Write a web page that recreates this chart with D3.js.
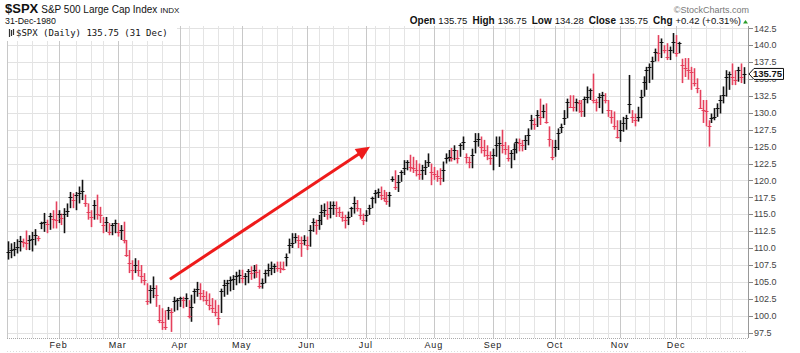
<!DOCTYPE html>
<html>
<head>
<meta charset="utf-8">
<script src="https://cdn.jsdelivr.net/npm/d3@7"></script>
<style>
  body { margin: 0; background: #fff; }
  svg { display: block; font-family: "Liberation Sans", Arial, sans-serif; }
</style>
</head>
<body>
<svg id="chart" width="800" height="353"></svg>
<script>
// Daily bars, 9 Jan .. 31 Dec 1980. Old data: open == close, so only H/L/C.
const highs = [
  111.0, 110.7, 110.9, 111.3, 111.8, 111.4, 112.6, 111.9, 112.4, 112.8, 111.8, 113.9, 115.2, 114.2, 115.2, 115.6, 116.9,
  115.6, 115.1, 115.9, 116.6, 118.3, 118.1, 118.3, 119.1, 120.1, 117.9, 116.6, 115.6, 117.1, 117.9, 116.1, 114.6, 114.6, 113.7, 113.7, 114.2,
  113.7, 113.4, 113.9, 111.2, 109.7, 108.2, 108.5, 108.2, 107.5, 106.3, 104.8, 104.5, 105.8, 104.5, 101.6, 101.1, 100.8, 101.3, 101.1, 102.8, 102.6,
  102.8, 102.8, 103.3, 102.3, 103.1, 104.0, 105.0, 104.8, 103.8, 103.6, 103.3, 102.6, 102.3, 101.6, 104.0, 105.3, 105.3, 105.8, 106.0, 106.5, 106.8,
  106.8, 106.3, 106.9, 107.3, 107.5, 107.6, 106.8, 105.5, 106.8, 107.7, 108.0, 107.7, 108.0, 108.0, 108.0, 109.2, 111.4, 112.2, 112.2, 111.9, 111.7, 111.9,
  111.7, 113.4, 114.4, 114.2, 114.9, 116.4, 116.6, 116.9, 116.9, 116.9, 116.9, 116.1, 115.4, 114.9, 115.4, 116.1, 117.6, 117.1, 115.9, 115.1,
  115.6, 116.4, 117.6, 118.6, 118.8, 119.1, 118.6, 118.3, 118.3, 120.6, 121.5, 120.8, 121.5, 123.0, 123.0, 123.8, 123.5, 123.0, 122.5, 122.3, 123.0, 124.0, 122.5,
  122.0, 121.5, 121.8, 122.8, 124.0, 124.5, 124.8, 125.2, 124.5, 125.5, 126.5, 124.0, 123.5, 124.7, 127.0, 127.0, 126.5, 126.0, 125.2, 124.3,
  124.7, 126.5, 126.5, 127.5, 125.7, 125.2, 124.5, 125.5, 126.2, 126.2, 126.0, 126.7, 127.7, 129.7, 129.2, 130.4, 132.1, 131.2, 131.4, 128.0, 126.0,
  126.0, 127.7, 128.4, 130.4, 132.1, 132.6, 132.6, 132.1, 131.9, 131.9, 132.4, 133.9, 133.6, 135.8, 132.1, 132.9, 133.1, 132.9, 131.9, 130.4, 130.2, 128.9,
  128.9, 129.4, 129.7, 135.6, 130.4, 129.9, 130.9, 133.4, 135.4, 136.8, 137.3, 138.3, 139.5, 141.5, 141.0, 140.0, 140.3, 139.8, 141.8,
  141.5, 140.5, 138.0, 138.1, 138.1, 136.8, 136.6, 135.1, 133.4, 131.9, 131.9, 128.9, 129.9, 130.7, 131.4, 132.6, 133.9, 136.3, 136.1, 137.3, 136.3, 136.8, 137.3, 136.75
];
const lows = [
  108.3, 108.5, 108.8, 109.2, 109.5, 110.1, 109.7, 109.7, 109.5, 110.4, 111.0, 112.8, 112.4, 112.2, 112.7, 112.9, 112.9,
  113.7, 113.4, 112.2, 114.6, 115.9, 115.9, 115.6, 116.6, 117.1, 116.1, 114.2, 113.1, 114.2, 114.2, 113.7, 112.2, 112.4, 111.9, 111.9, 112.2,
  111.7, 111.2, 110.7, 108.7, 106.3, 105.3, 106.3, 105.8, 104.8, 104.5, 101.6, 101.8, 102.6, 101.3, 98.9, 97.9, 97.9, 99.4, 97.6, 100.6, 100.8,
  101.3, 101.1, 101.3, 99.6, 99.1, 101.8, 102.8, 102.3, 102.1, 101.6, 100.8, 100.4, 99.9, 98.6, 100.4, 102.8, 103.1, 103.6, 103.8, 104.5, 104.8,
  104.8, 104.5, 104.8, 105.3, 105.5, 105.6, 104.0, 104.0, 104.8, 105.8, 106.0, 106.3, 106.5, 106.3, 106.7, 107.3, 109.2, 110.0, 110.7, 110.0, 108.7, 110.4,
  109.7, 110.2, 112.4, 112.0, 112.7, 113.4, 114.6, 114.2, 114.4, 114.9, 114.6, 114.6, 113.9, 112.9, 113.4, 114.6, 115.1, 115.4, 114.2, 113.4,
  113.9, 114.9, 115.9, 116.6, 117.4, 117.1, 116.9, 116.4, 116.1, 119.8, 118.6, 118.3, 119.8, 120.8, 121.5, 121.3, 121.1, 120.6, 120.1, 120.1, 120.8, 122.0, 119.3,
  120.1, 119.8, 119.3, 119.8, 122.5, 122.8, 122.8, 123.0, 122.5, 123.5, 124.5, 122.5, 121.8, 121.8, 124.0, 125.0, 124.0, 123.5, 123.0, 122.3,
  121.5, 123.5, 122.0, 124.0, 123.8, 122.8, 121.8, 123.0, 124.0, 124.3, 124.3, 124.5, 125.2, 127.5, 127.5, 127.9, 128.2, 129.2, 128.4, 125.0, 123.0,
  123.5, 124.5, 127.0, 128.2, 129.2, 130.7, 130.2, 130.2, 130.0, 129.4, 129.4, 131.4, 131.9, 131.4, 130.2, 130.7, 129.9, 131.4, 129.4, 128.4, 127.5, 126.2,
  125.7, 127.2, 127.5, 129.9, 128.5, 128.0, 128.7, 129.2, 132.4, 133.4, 134.4, 134.9, 137.6, 137.6, 138.1, 138.8, 137.8, 137.8, 138.8,
  138.3, 138.8, 134.4, 135.3, 134.9, 133.4, 133.9, 132.9, 130.6, 128.5, 128.0, 125.0, 128.5, 128.9, 129.4, 129.9, 131.4, 132.4, 133.4, 134.1, 134.1, 134.6, 134.4, 134.28
];
const closes = [
  109.4, 109.7, 109.9, 110.2, 111.0, 110.9, 110.8, 111.2, 111.4, 111.9, 111.5, 113.7, 113.8, 113.6, 114.7, 114.3, 114.1,
  115.0, 114.4, 115.1, 115.5, 117.6, 117.1, 117.8, 118.2, 118.5, 116.6, 115.4, 114.6, 116.4, 115.1, 114.9, 113.4, 113.9, 112.4, 113.4, 113.7,
  112.4, 112.7, 111.2, 109.0, 107.8, 106.8, 107.5, 106.8, 105.8, 105.3, 102.1, 103.8, 104.1, 103.1, 99.4, 99.1, 98.4, 100.8, 100.6, 102.1, 102.3,
  102.6, 102.3, 102.6, 99.9, 101.3, 103.6, 104.0, 103.3, 102.9, 102.3, 101.6, 101.1, 100.6, 99.6, 103.6, 104.5, 104.8, 105.3, 105.5, 105.8, 106.0,
  105.6, 105.9, 106.6, 106.3, 106.8, 106.5, 104.4, 104.8, 106.3, 106.8, 107.0, 107.3, 107.1, 107.0, 106.9, 108.7, 110.4, 110.8, 111.6, 111.2, 110.7, 111.2,
  110.4, 112.7, 113.9, 113.4, 114.2, 115.4, 115.6, 115.1, 115.9, 116.4, 115.9, 115.4, 114.6, 114.2, 114.6, 115.9, 116.6, 115.9, 114.9, 114.2,
  114.9, 115.9, 117.4, 118.1, 118.3, 117.9, 117.4, 116.9, 117.9, 120.2, 119.1, 119.8, 121.3, 121.8, 122.8, 122.0, 121.8, 121.5, 121.0, 121.5, 122.0, 122.8, 121.3,
  121.0, 120.6, 120.3, 121.5, 123.3, 123.5, 123.3, 124.5, 123.3, 125.2, 125.7, 123.5, 122.8, 123.8, 125.9, 126.1, 125.0, 124.5, 123.8, 123.3,
  123.8, 125.2, 125.5, 125.2, 124.7, 123.3, 124.0, 124.7, 125.7, 125.5, 125.3, 126.0, 126.7, 128.9, 128.4, 129.7, 129.4, 130.2, 128.7, 126.2, 123.5,
  125.0, 127.0, 127.9, 129.2, 131.6, 130.9, 130.8, 131.6, 131.4, 130.2, 132.1, 132.4, 133.4, 131.9, 131.6, 132.4, 132.6, 131.9, 130.4, 129.4, 128.0, 126.4,
  127.5, 128.5, 129.2, 131.3, 129.4, 128.9, 129.4, 132.4, 134.6, 136.3, 136.8, 137.6, 139.0, 138.8, 140.5, 139.3, 138.3, 139.3, 140.5,
  138.8, 140.3, 137.1, 136.6, 136.4, 136.0, 134.4, 133.6, 130.7, 130.4, 130.2, 128.0, 129.2, 129.4, 130.7, 131.9, 132.6, 135.3, 135.8, 135.35, 134.9, 136.3, 135.33, 135.75
];

// month and week separators, as bar indices
const monthLabels = ["Feb", "Mar", "Apr", "May", "Jun", "Jul", "Aug", "Sep", "Oct", "Nov", "Dec"];
const monthStarts = [17, 37, 58, 79, 101, 121, 144, 164, 185, 207, 226];
const weekStarts = [3, 8, 13, 23, 28, 32, 42, 47, 52, 61, 66, 71, 76, 86, 91, 96, 105, 110, 115, 124, 129, 134, 139,
  149, 154, 159, 168, 173, 178, 188, 193, 198, 203, 212, 217, 222, 231, 236, 241, 245];
const yTicks = [97.5, 100.0, 102.5, 105.0, 107.5, 110.0, 112.5, 115.0, 117.5, 120.0, 122.5, 125.0, 127.5,
  130.0, 132.5, 135.0, 137.5, 140.0, 142.5];

// hand drawn trend arrow, in [bar index, price]
const arrowFrom = [54.7, 105.4];
const arrowTo = [122.4, 125.0];

const quote = { open: "135.75", high: "136.75", low: "134.28", close: "135.75", chg: "+0.42 (+0.31%)" };
const lastClose = 135.75;

const upColor = "#111";
const downColor = "#e5405c";

const plot = { left: 7, right: 748, top: 26, bottom: 338 };

const svg = d3.select("#chart");

const x = d3.scaleLinear()
	.domain([0, closes.length - 1])
	.range([8.3, 744]);

const y = d3.scaleLinear()
	.domain([97.5, 142.5])
	.range([332.6, 28.3]);

const snap = (v) => Math.round(v) + 0.5;

// Grid
const grid = svg.append("g").attr("class", "grid");

grid.selectAll(".h-grid")
	.data(yTicks)
	.enter()
	.append("line")
	.attr("x1", plot.left)
	.attr("x2", plot.right)
	.attr("y1", d => snap(y(d)))
	.attr("y2", d => snap(y(d)))
	.style("stroke", "#e2e2e2")
	.style("stroke-width", 1);

grid.selectAll(".w-grid")
	.data(weekStarts)
	.enter()
	.append("line")
	.attr("x1", d => snap(x(d)))
	.attr("x2", d => snap(x(d)))
	.attr("y1", plot.top)
	.attr("y2", plot.bottom)
	.style("stroke", "#e4e4e4")
	.style("stroke-width", 1);

grid.selectAll(".m-grid")
	.data(monthStarts)
	.enter()
	.append("line")
	.attr("x1", d => snap(x(d)))
	.attr("x2", d => snap(x(d)))
	.attr("y1", plot.top)
	.attr("y2", plot.bottom)
	.style("stroke", "#c8c8c8")
	.style("stroke-width", 1);

// frame
svg.append("line")
	.attr("x1", plot.left + 0.5).attr("x2", plot.left + 0.5)
	.attr("y1", plot.top).attr("y2", plot.bottom)
	.style("stroke", "#c8c8c8");

svg.append("line")
	.attr("x1", plot.left).attr("x2", plot.right)
	.attr("y1", plot.bottom + 0.5).attr("y2", plot.bottom + 0.5)
	.style("stroke", "#aaa")
	.style("stroke-dasharray", "1,1");

svg.append("line")
	.attr("x1", plot.left).attr("x2", plot.right)
	.attr("y1", 351.5).attr("y2", 351.5)
	.style("stroke", "#ddd")
	.style("stroke-dasharray", "1,2");

svg.append("line")
	.attr("x1", plot.right + 0.5).attr("x2", plot.right + 0.5)
	.attr("y1", plot.top).attr("y2", plot.bottom)
	.style("stroke", "#999");

// legend box inside the plot
const legend = svg.append("g");
legend.append("rect")
	.attr("x", 5).attr("y", 26)
	.attr("width", 172).attr("height", 15)
	.style("fill", "#fff");

[[9, 29, 37], [11, 30, 36], [13, 29, 35]].forEach(d => {
	legend.append("line")
		.attr("x1", d[0] + 0.5).attr("x2", d[0] + 0.5)
		.attr("y1", d[1]).attr("y2", d[2])
		.style("stroke", "#333")
		.style("stroke-width", 1.2);
});

legend.append("text")
	.attr("x", 16).attr("y", 36)
	.style("font-family", "'DejaVu Sans Mono', monospace")
	.style("font-size", "9px")
	.style("fill", "#111")
	.text("$SPX (Daily) " + lastClose.toFixed(2) + " (31 Dec)");

// OHLC bars (colour by close vs previous close)
const barColor = (i) => (i > 0 && closes[i] < closes[i - 1]) ? downColor : upColor;

const bars = svg.append("g").attr("class", "bars");

bars.selectAll(".hl")
	.data(closes)
	.enter()
	.append("line")
	.attr("class", "hl")
	.attr("x1", (d, i) => Math.round(x(i)) + 0.5)
	.attr("x2", (d, i) => Math.round(x(i)) + 0.5)
	.attr("y1", (d, i) => y(highs[i]))
	.attr("y2", (d, i) => y(lows[i]))
	.style("stroke", (d, i) => barColor(i))
	.style("stroke-width", 1.6);

// open tick (open equals close here) and close tick
bars.selectAll(".oc")
	.data(closes)
	.enter()
	.append("line")
	.attr("class", "oc")
	.attr("x1", (d, i) => Math.round(x(i)) - 1.5)
	.attr("x2", (d, i) => Math.round(x(i)) + 2.5)
	.attr("y1", d => snap(y(d)))
	.attr("y2", d => snap(y(d)))
	.style("stroke", (d, i) => barColor(i))
	.style("stroke-width", 1);

// trend arrow
const ax1 = x(arrowFrom[0]), ay1 = y(arrowFrom[1]);
const ax2 = x(arrowTo[0]), ay2 = y(arrowTo[1]);
const ang = Math.atan2(ay2 - ay1, ax2 - ax1);
const headLen = 14, headHalf = 6.5;
const bx = ax2 - headLen * Math.cos(ang), by = ay2 - headLen * Math.sin(ang);

svg.append("line")
	.attr("x1", ax1).attr("y1", ay1)
	.attr("x2", bx + 2 * Math.cos(ang)).attr("y2", by + 2 * Math.sin(ang))
	.style("stroke", "#ee1b1b")
	.style("stroke-width", 3);

svg.append("path")
	.attr("d", d3.line()([
		[ax2, ay2],
		[bx - headHalf * Math.sin(ang), by + headHalf * Math.cos(ang)],
		[bx + headHalf * Math.sin(ang), by - headHalf * Math.cos(ang)]
	]) + "Z")
	.style("fill", "#ee1b1b");

// right price axis
const yAxis = svg.append("g").attr("class", "y-axis");

yAxis.selectAll(".tick-line")
	.data(yTicks)
	.enter()
	.append("line")
	.attr("x1", plot.right + 1)
	.attr("x2", plot.right + 5)
	.attr("y1", d => snap(y(d)))
	.attr("y2", d => snap(y(d)))
	.style("stroke", "#888");

yAxis.selectAll(".tick-label")
	.data(yTicks)
	.enter()
	.append("text")
	.attr("x", plot.right + 6)
	.attr("y", d => y(d) + 3.2)
	.style("font-size", "9px")
	.style("fill", "#444")
	.text(d => d.toFixed(1));

// last price marker
const ly = y(lastClose);
svg.append("path")
	.attr("d", d3.line()([
		[plot.right + 1, ly],
		[plot.right + 6, ly - 5.5],
		[783.5, ly - 5.5],
		[783.5, ly + 5.5],
		[plot.right + 6, ly + 5.5]
	]) + "Z")
	.style("fill", "#fff")
	.style("stroke", "#111")
	.style("stroke-width", 1);

svg.append("text")
	.attr("x", plot.right + 5)
	.attr("y", ly + 3.5)
	.style("font-size", "9.5px")
	.style("font-weight", "bold")
	.style("fill", "#111")
	.text(lastClose.toFixed(2));

// month labels
svg.selectAll(".month-label")
	.data(monthLabels)
	.enter()
	.append("text")
	.attr("x", (d, i) => x(monthStarts[i]))
	.attr("y", 348)
	.style("font-size", "9px")
	.style("letter-spacing", "0.8px")
	.style("text-anchor", "middle")
	.style("fill", "#222")
	.text(d => d);

// header
const head = svg.append("text").attr("x", 5).attr("y", 12.5).style("fill", "#111");
head.append("tspan").style("font-size", "13px").style("font-weight", "bold").text("$SPX");
head.append("tspan").attr("dx", 3).style("font-size", "10px").text("S&P 500 Large Cap Index");
head.append("tspan").attr("dx", 3).style("font-size", "8px").text("INDX");

svg.append("text")
	.attr("x", 5).attr("y", 24)
	.style("font-size", "8.8px")
	.style("fill", "#111")
	.text("31-Dec-1980");

svg.append("text")
	.attr("x", 749).attr("y", 12.5)
	.style("font-size", "9px")
	.style("text-anchor", "end")
	.style("fill", "#777")
	.text("\u00A9StockCharts.com");

const ohlc = svg.append("text")
	.attr("x", 741).attr("y", 24)
	.style("text-anchor", "end")
	.style("fill", "#111");

[["Open", quote.open], ["High", quote.high], ["Low", quote.low], ["Close", quote.close], ["Chg", quote.chg]]
	.forEach((d, i) => {
		ohlc.append("tspan")
			.attr("dx", i === 0 ? 0 : 5)
			.style("font-size", "10px")
			.style("font-weight", "bold")
			.text(d[0]);
		ohlc.append("tspan")
			.attr("dx", 3)
			.style("font-size", "9.5px")
			.text(d[1]);
	});

svg.append("path")
	.attr("d", "M743,23.5 L748,23.5 L745.5,20 Z")
	.style("fill", "#2a9d2a");
</script>
</body>
</html>
